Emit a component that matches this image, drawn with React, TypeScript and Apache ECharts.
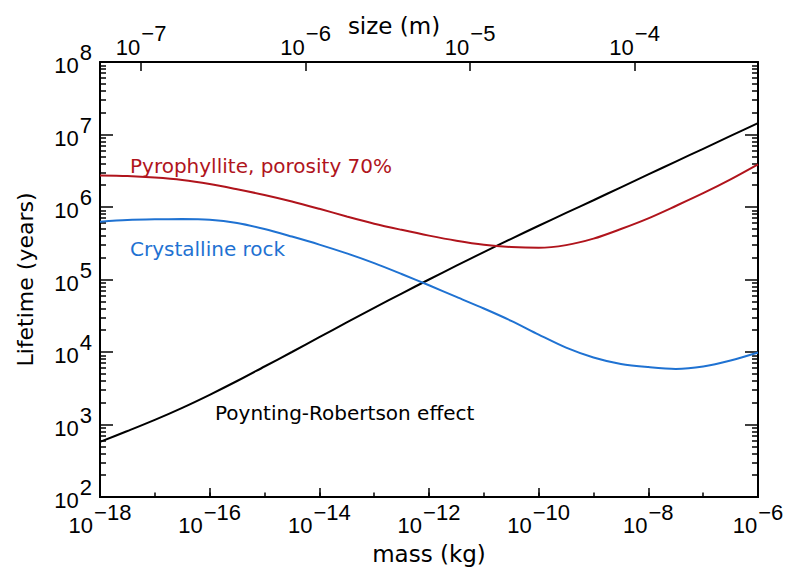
import { useEffect, useRef } from 'react';
import * as echarts from 'echarts';

// mass (kg) sample points, as exponents of ten (half-decade steps)
const MASS_EXP = [-18, -17.5, -17, -16.5, -16, -15.5, -15, -14.5, -14, -13.5, -13, -12.5, -12, -11.5, -11, -10.5, -10, -9.5, -9, -8.5, -8, -7.5, -7, -6.5, -6];
// lifetimes (years)
const PR_EFFECT = [575, 813, 1160, 1700, 2570, 3980, 6310, 10000, 16000, 25600, 40600, 64000, 100000, 155000, 239000, 364000, 551000, 828000, 1240000, 1870000, 2810000, 4230000, 6350000, 9550000, 14350000];
const PYROPHYLLITE = [2730000, 2685000, 2559000, 2366000, 2080000, 1758000, 1466000, 1191000, 944000, 741000, 589000, 484000, 403000, 343000, 302000, 281000, 274000, 298000, 366000, 497000, 698000, 1033000, 1549000, 2404000, 3873000];
const CRYSTALLINE = [627000, 661000, 676000, 682000, 667000, 601000, 497000, 391000, 303000, 229000, 168000, 119000, 83200, 57500, 39800, 26900, 17400, 11500, 8410, 6840, 6190, 5850, 6310, 7620, 9840];

const MASS_EXP_RANGE = [-18, -6];
const LIFETIME_EXP_RANGE = [2, 8];
const SIZE_EXP_RANGE = [-7.25, -3.25];
const SIZE_TICK_EXP = [-7, -6, -5, -4];

const SERIES_NAMES = ['Poynting-Robertson effect', 'Pyrophyllite, porosity 70%', 'Crystalline rock'];
const COLORS = ['#000000', '#b0141c', '#1f72d2'];

const TICK_FONT = 'Liberation Sans';
const TEXT_FONT = 'DejaVu Sans';
const TICK_SIZE = 22;

const sup = (v: number) => {
  const n = Math.round(v);
  return n < 0 ? '\u2212' + Math.abs(n) : String(n);
};

const richFor = (pb: number[], pe: number[]) => ({
  b: { fontFamily: TICK_FONT, fontSize: TICK_SIZE, color: '#000', padding: pb },
  e: { fontFamily: TICK_FONT, fontSize: TICK_SIZE, color: '#000', padding: pe },
});

const fmt = (v: number) => `{b|10}{e|${sup(v)}}`;

export default function App() {
  const ref = useRef<HTMLDivElement>(null);
  useEffect(() => {
    if (!ref.current) return;
    const chart = echarts.init(ref.current, undefined, { renderer: 'svg' });

    const minorY: number[] = [];
    for (let n = LIFETIME_EXP_RANGE[0]; n < LIFETIME_EXP_RANGE[1]; n++) {
      for (let k = 2; k <= 9; k++) minorY.push(n + Math.log10(k));
    }

    const toData = (vals: number[]) => MASS_EXP.map((m, i) => [m, Math.log10(vals[i])]);

    const axisLine = { show: true, onZero: false, lineStyle: { color: '#000', width: 2 } };
    const tickStyle = { color: '#000', width: 1.5 };

    chart.setOption({
      animation: false,
      backgroundColor: '#fff',
      grid: { left: 100, right: 42, top: 62, bottom: 84, containLabel: false, outerBoundsMode: 'none' },
      xAxis: [
        {
          type: 'value', position: 'bottom', min: MASS_EXP_RANGE[0], max: MASS_EXP_RANGE[1], interval: 1,
          axisLine, axisTick: { show: true, inside: true, length: 4.5, lineStyle: tickStyle },
          axisLabel: { show: false }, splitLine: { show: false },
        },
        {
          type: 'value', position: 'bottom', min: MASS_EXP_RANGE[0], max: MASS_EXP_RANGE[1], interval: 2,
          axisLine, axisTick: { show: true, inside: true, length: 9, lineStyle: tickStyle },
          axisLabel: {
            show: true, margin: 4, formatter: fmt, rich: richFor([0, 0, 0, 0], [0, 0, 27, 1]),
            showMinLabel: true, showMaxLabel: true, hideOverlap: false,
          },
          splitLine: { show: false },
          name: 'mass (kg)', nameLocation: 'middle', nameGap: 45, nameMoveOverlap: false,
          nameTextStyle: { fontFamily: TEXT_FONT, fontSize: 23, color: '#000' },
        },
        {
          type: 'value', position: 'top', min: SIZE_EXP_RANGE[0], max: SIZE_EXP_RANGE[1],
          axisLine, axisTick: { show: true, inside: true, length: 9, lineStyle: tickStyle, customValues: SIZE_TICK_EXP },
          axisLabel: {
            show: true, margin: 4, formatter: fmt, customValues: SIZE_TICK_EXP,
            rich: richFor([27, 0, 0, 0], [0, 0, 0, 1]), hideOverlap: false,
          },
          splitLine: { show: false },
          name: 'size (m)', nameLocation: 'middle', nameGap: 25, nameMoveOverlap: false,
          nameTextStyle: { fontFamily: TEXT_FONT, fontSize: 23, color: '#000', padding: [0, 70, 0, 0] },
        },
      ],
      yAxis: [
        {
          type: 'value', position: 'left', min: LIFETIME_EXP_RANGE[0], max: LIFETIME_EXP_RANGE[1], interval: 1,
          axisLine, axisTick: { show: true, inside: true, length: 13, lineStyle: tickStyle },
          axisLabel: {
            show: true, margin: 8, formatter: fmt, rich: richFor([7, 0, 0, 0], [0, 0, 19, 1]),
            showMinLabel: true, showMaxLabel: true, hideOverlap: false,
          },
          splitLine: { show: false },
          name: 'Lifetime (years)', nameLocation: 'middle', nameGap: 64, nameMoveOverlap: false,
          nameTextStyle: { fontFamily: TEXT_FONT, fontSize: 22, color: '#000' },
        },
        {
          type: 'value', position: 'left', min: LIFETIME_EXP_RANGE[0], max: LIFETIME_EXP_RANGE[1],
          axisLine: { show: false, onZero: false },
          axisTick: { show: true, inside: true, length: 6, lineStyle: tickStyle, customValues: minorY },
          axisLabel: { show: false }, splitLine: { show: false },
        },
        {
          type: 'value', position: 'right', min: LIFETIME_EXP_RANGE[0], max: LIFETIME_EXP_RANGE[1], interval: 1,
          axisLine, axisTick: { show: true, inside: true, length: 13, lineStyle: tickStyle },
          axisLabel: { show: false }, splitLine: { show: false },
        },
        {
          type: 'value', position: 'right', min: LIFETIME_EXP_RANGE[0], max: LIFETIME_EXP_RANGE[1],
          axisLine: { show: false, onZero: false },
          axisTick: { show: true, inside: true, length: 6, lineStyle: tickStyle, customValues: minorY },
          axisLabel: { show: false }, splitLine: { show: false },
        },
      ],
      series: [PR_EFFECT, PYROPHYLLITE, CRYSTALLINE].map((vals, i) => ({
        name: SERIES_NAMES[i],
        type: 'line',
        xAxisIndex: 0,
        yAxisIndex: 0,
        data: toData(vals),
        showSymbol: false,
        smooth: 0.3,
        lineStyle: { color: COLORS[i], width: 2 },
        itemStyle: { color: COLORS[i] },
      })),
      graphic: [
        {
          type: 'text', x: 130, y: 166,
          style: { text: SERIES_NAMES[1], fill: COLORS[1], font: `20px "${TEXT_FONT}"`, verticalAlign: 'middle', align: 'left' },
        },
        {
          type: 'text', x: 130, y: 249,
          style: { text: SERIES_NAMES[2], fill: COLORS[2], font: `20px "${TEXT_FONT}"`, verticalAlign: 'middle', align: 'left' },
        },
        {
          type: 'text', x: 215, y: 413,
          style: { text: SERIES_NAMES[0], fill: COLORS[0], font: `20px "${TEXT_FONT}"`, verticalAlign: 'middle', align: 'left' },
        },
      ],
    });
    return () => chart.dispose();
  }, []);
  return <div ref={ref} style={{ position: 'fixed', left: 0, top: 0, width: 800, height: 581 }} />;
}
